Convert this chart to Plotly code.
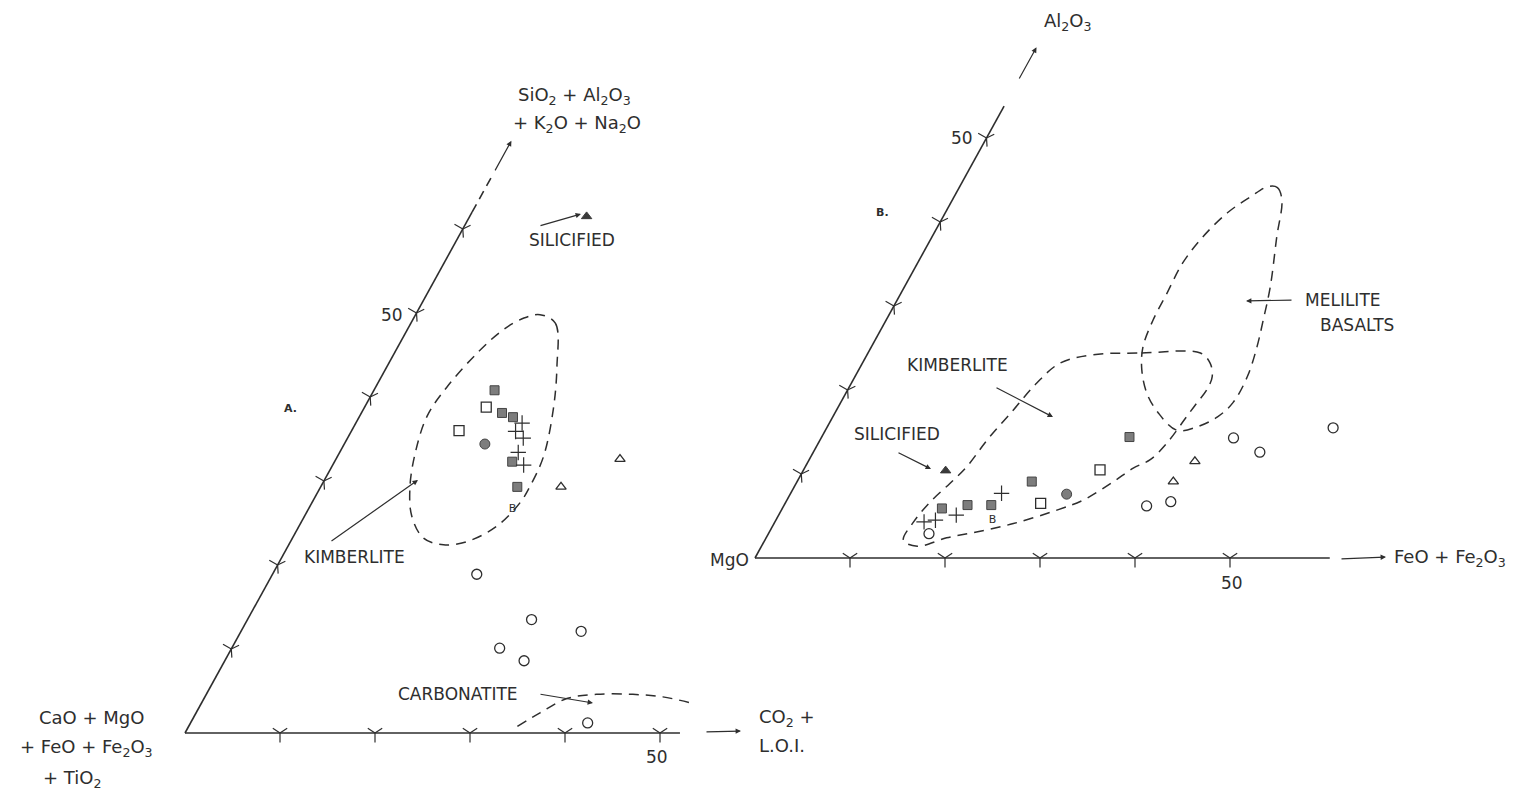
import plotly.graph_objects as go

W, H = 1524, 794
INK = "#2e2e2e"
FONT = "DejaVu Sans"

# Diagram geometry (style): one composition unit = UNIT px along the c axis;
# the a axis is drawn obliquely as in the original figure.
UNIT = 9.5
KX, KY = 4.63 / UNIT, 8.4 / UNIT
PAGE_OFF = 8                      # body margin of the written html page
ORIGIN_A = (185, 733)             # CaO+MgO+... corner of panel A (page px)
ORIGIN_B = (755, 558)             # MgO corner of panel B (page px)

# ---------------- Panel A : a = SiO2+Al2O3+K2O+Na2O, c = CO2+L.O.I. (rest = CaO+MgO+FeO+Fe2O3+TiO2)
A_GRAYSQ_A = [40.8, 38.1, 37.6, 32.3, 29.3]
A_GRAYSQ_C = [12.7, 14.8, 16.2, 18.7, 20.7]
A_OPENSQ_A = [38.8, 36.0]
A_OPENSQ_C = [12.8, 11.3]
A_GRAYCIRC_A = [34.4]
A_GRAYCIRC_C = [14.8]
A_PLUS_A = [36.9, 35.9, 35.1, 33.4, 31.9]
A_PLUS_C = [17.5, 17.3, 18.5, 18.8, 20.1]
A_B_A = [26.6]
A_B_C = [21.5]
A_OPENTRI_A = [29.3, 32.6]
A_OPENTRI_C = [25.3, 29.9]
A_SILIC_A = [61.5]
A_SILIC_C = [12.3]
A_CIRC_A = [18.9, 13.5, 12.1, 10.1, 8.6, 1.2]
A_CIRC_C = [21.5, 29.9, 35.8, 28.2, 31.5, 41.8]
A_KIMB_A = [49.8, 48.8, 43.6, 38.5, 32.9, 29.3, 27.4, 24.6, 22.8, 22.4, 23.2, 25.8,
            29.3, 33.3, 37.7, 41.2, 45.2, 48.0, 49.4, 49.8]
A_KIMB_C = [13.1, 15.2, 17.9, 20.0, 21.7, 22.0, 21.9, 20.8, 18.6, 16.3, 13.8, 11.3,
            9.4, 8.0, 7.1, 7.5, 8.7, 10.1, 11.6, 13.1]
A_CARB_A = [0.8, 2.4, 4.1, 4.6, 4.6, 4.3, 3.6]
A_CARB_C = [34.6, 36.2, 38.2, 41.1, 44.9, 48.2, 51.4]
A_TICKS = [10, 20, 30, 40, 50, 60]
A_TICKS_C = [10, 20, 30, 40, 50]
A_AXIS_A_SOLID = [0, 62]
A_AXIS_A_DASH = [62, 66.5]
A_AXIS_A_ARROW = [66.8, 70.5]
A_AXIS_C = [0, 52.1]

# ---------------- Panel B : a = Al2O3, c = FeO+Fe2O3 (rest = MgO)
B_GRAYSQ_A = [5.9, 6.3, 6.3, 9.1, 14.4]
B_GRAYSQ_C = [16.8, 19.3, 21.8, 24.7, 32.4]
B_OPENSQ_A = [6.5, 10.5]
B_OPENSQ_C = [26.9, 31.2]
B_GRAYCIRC_A = [7.6]
B_GRAYCIRC_C = [29.1]
B_PLUS_A = [7.7, 5.1, 4.3, 4.5]
B_PLUS_C = [22.2, 18.7, 15.7, 16.8]
B_B_A = [4.5]
B_B_C = [22.8]
B_SILIC_A = [10.4]
B_SILIC_C = [15.0]
B_CIRC_A = [2.9, 6.2, 6.7, 14.3, 12.6, 15.5]
B_CIRC_C = [16.9, 38.2, 40.5, 43.4, 47.0, 53.3]
B_OPENTRI_A = [9.1, 11.5]
B_OPENTRI_C = [39.6, 40.7]
B_KIMB_A = [24.2, 24.4, 24.4, 23.2, 21.6, 20.0, 18.4, 16.6, 13.7, 11.7, 10.7, 9.1, 6.9,
            5.7, 4.1, 3.1, 2.4, 1.4, 2.1, 4.3, 6.7, 8.9, 10.9, 14.1, 17.6, 20.8, 23.2, 24.2]
B_KIMB_C = [23.8, 28.8, 35.0, 36.6, 37.6, 37.8, 37.5, 37.2, 36.7, 35.9, 34.6, 33.3, 31.2,
            29.0, 25.2, 21.8, 19.0, 16.4, 14.6, 14.6, 15.2, 16.2, 17.0, 17.6, 18.6, 19.5, 20.8, 23.8]
B_MEL_A = [44.2, 44.1, 42.6, 38.2, 32.3, 28.3, 25.1, 21.6, 18.5, 16.8, 15.6, 15.2, 17.3,
           19.6, 22.4, 25.1, 28.3, 31.6, 35.1, 38.2, 41.1, 43.0, 44.2]
B_MEL_C = [32.4, 33.5, 34.7, 36.3, 38.5, 39.7, 40.6, 41.3, 41.3, 40.5, 38.9, 37.0, 34.0,
           31.7, 29.8, 28.6, 28.1, 28.0, 27.9, 28.5, 29.7, 31.2, 32.4]
B_TICKS = [10, 20, 30, 40, 50]
B_TICKS_C = [10, 20, 30, 40, 50]
B_AXIS_A = [0, 53.8]
B_AXIS_A_ARROW = [56.9, 60.8]
B_AXIS_C = [0, 60.5]


def proj(a, c):
    """oblique (partial ternary) projection of compositions onto the drawing plane"""
    return [ci + KX * ai for ai, ci in zip(a, c)], [KY * ai for ai in a]


fig = go.Figure()


def pts(ax, a, c, mode="markers", **kw):
    x, y = proj(a, c)
    fig.add_trace(go.Scatter(x=x, y=y, xaxis="x" if ax == 1 else "x2",
                             yaxis="y" if ax == 1 else "y2", mode=mode, cliponaxis=False,
                             hoverinfo="skip", showlegend=False, **kw))


def panel(ax, d):
    gray = dict(color="#7d7d7d", line=dict(color="#444", width=1))
    pts(ax, d["gsq_a"], d["gsq_c"], marker=dict(symbol="square", size=9, **gray))
    pts(ax, d["osq_a"], d["osq_c"], marker=dict(symbol="square-open", size=10, color=INK,
                                                 line=dict(color=INK, width=1.3)))
    pts(ax, d["gci_a"], d["gci_c"], marker=dict(symbol="circle", size=10, **gray))
    pts(ax, d["plus_a"], d["plus_c"], marker=dict(symbol="cross-thin-open", size=11, color=INK,
                                                   line=dict(color=INK, width=1.2)))
    pts(ax, d["b_a"], d["b_c"], mode="text", text=["B"] * len(d["b_a"]),
        textfont=dict(family=FONT, size=11, color=INK))
    pts(ax, d["tri_a"], d["tri_c"], marker=dict(symbol="triangle-up-open", size=9, color=INK,
                                                 line=dict(color=INK, width=1.3)))
    pts(ax, d["sil_a"], d["sil_c"], marker=dict(symbol="triangle-up", size=9, color="#3a3a3a",
                                                 line=dict(color="#3a3a3a", width=1)))
    pts(ax, d["ci_a"], d["ci_c"], marker=dict(symbol="circle-open", size=10, color=INK,
                                               line=dict(color=INK, width=1.3)))


# dashed fields
dash = dict(color=INK, width=1.5, dash="10px,7px", shape="spline")
pts(1, A_KIMB_A, A_KIMB_C, mode="lines", line=dash)
pts(1, A_CARB_A, A_CARB_C, mode="lines", line=dash)
pts(2, B_KIMB_A, B_KIMB_C, mode="lines", line=dash)
pts(2, B_MEL_A, B_MEL_C, mode="lines", line=dash)

# axes of the diagrams
axline = dict(color=INK, width=1.6)
pts(1, A_AXIS_A_SOLID, [0, 0], mode="lines", line=axline)
pts(1, A_AXIS_A_DASH, [0, 0], mode="lines", line=dict(color=INK, width=1.6, dash="9px,6px"))
pts(1, [0, 0], A_AXIS_C, mode="lines", line=axline)
pts(2, B_AXIS_A, [0, 0], mode="lines", line=axline)
pts(2, [0, 0], B_AXIS_C, mode="lines", line=axline)

# tick marks
tick_c = dict(symbol="y-down-open", size=12, color=INK, line=dict(color=INK, width=1.2))
tick_a = dict(symbol="y-left-open", size=12, angle=30, color=INK, line=dict(color=INK, width=1.2))
pts(1, A_TICKS, [0] * len(A_TICKS), marker=tick_a)
pts(1, [0] * len(A_TICKS_C), A_TICKS_C, marker=tick_c)
pts(2, B_TICKS, [0] * len(B_TICKS), marker=tick_a)
pts(2, [0] * len(B_TICKS_C), B_TICKS_C, marker=tick_c)

panel(1, dict(gsq_a=A_GRAYSQ_A, gsq_c=A_GRAYSQ_C, osq_a=A_OPENSQ_A, osq_c=A_OPENSQ_C,
              gci_a=A_GRAYCIRC_A, gci_c=A_GRAYCIRC_C, plus_a=A_PLUS_A, plus_c=A_PLUS_C,
              b_a=A_B_A, b_c=A_B_C, tri_a=A_OPENTRI_A, tri_c=A_OPENTRI_C,
              sil_a=A_SILIC_A, sil_c=A_SILIC_C, ci_a=A_CIRC_A, ci_c=A_CIRC_C))
panel(2, dict(gsq_a=B_GRAYSQ_A, gsq_c=B_GRAYSQ_C, osq_a=B_OPENSQ_A, osq_c=B_OPENSQ_C,
              gci_a=B_GRAYCIRC_A, gci_c=B_GRAYCIRC_C, plus_a=B_PLUS_A, plus_c=B_PLUS_C,
              b_a=B_B_A, b_c=B_B_C, tri_a=B_OPENTRI_A, tri_c=B_OPENTRI_C,
              sil_a=B_SILIC_A, sil_c=B_SILIC_C, ci_a=B_CIRC_A, ci_c=B_CIRC_C))


def axes_for(origin):
    ox, oy = origin[0] - PAGE_OFF, origin[1] - PAGE_OFF
    xr = [-ox / UNIT, (W - ox) / UNIT]
    yr = [-(H - oy) / UNIT, oy / UNIT]
    return xr, yr


xrA, yrA = axes_for(ORIGIN_A)
xrB, yrB = axes_for(ORIGIN_B)
hidden = dict(visible=False, showgrid=False, zeroline=False, fixedrange=True, domain=[0, 1])

annotations = []


def P(px, py):
    return (px - PAGE_OFF) / W, 1 - (py - PAGE_OFF) / H


def txt(text, x, y, size=17, anchor="center", bold=False):
    px, py = P(x, y)
    annotations.append(dict(text=f"<b>{text}</b>" if bold else text, x=px, y=py,
                            xref="paper", yref="paper", showarrow=False,
                            xanchor=anchor, yanchor="middle",
                            font=dict(family=FONT, size=size, color=INK)))


def arrow(tx, ty, hx, hy):
    px, py = P(hx, hy)
    annotations.append(dict(text="", x=px, y=py, xref="paper", yref="paper",
                            ax=tx - hx, ay=ty - hy, showarrow=True, arrowhead=2,
                            arrowsize=0.9, arrowwidth=1.2, arrowcolor=INK))


def axis_arrow(origin, a_pair):
    """arrowhead at the end of an oblique (a) axis, placed with the diagram geometry"""
    (a0, a1) = a_pair
    t = (origin[0] + UNIT * KX * a0, origin[1] - UNIT * KY * a0)
    h = (origin[0] + UNIT * KX * a1, origin[1] - UNIT * KY * a1)
    arrow(t[0], t[1], h[0], h[1])


# Panel A texts
txt("SiO<sub>2</sub> + Al<sub>2</sub>O<sub>3</sub>", 574, 96, size=18)
txt("+ K<sub>2</sub>O + Na<sub>2</sub>O", 577, 124, size=18)
txt("SILICIFIED", 572, 240)
arrow(539, 226, 581, 214)
txt("50", 392, 315)
txt("A.", 290, 408, size=11, bold=True)
txt("KIMBERLITE", 354, 557)
arrow(330, 542, 418, 480)
txt("CARBONATITE", 458, 694)
arrow(539, 694, 593, 703)
txt("50", 657, 757)
txt("CaO + MgO", 91, 717, size=18)
txt("+ FeO + Fe<sub>2</sub>O<sub>3</sub>", 86, 748, size=18)
txt("+ TiO<sub>2</sub>", 72, 779, size=18)
txt("CO<sub>2</sub> +", 757, 718, size=18, anchor="left")
txt("L.O.I.", 757, 745, size=18, anchor="left")
arrow(705, 732, 741, 731)
axis_arrow(ORIGIN_A, A_AXIS_A_ARROW)

# Panel B texts
txt("Al<sub>2</sub>O<sub>3</sub>", 1068, 22, size=18)
axis_arrow(ORIGIN_B, B_AXIS_A_ARROW)
txt("50", 962, 138)
txt("B.", 882, 212, size=11, bold=True)
txt("MELILITE", 1343, 300)
txt("BASALTS", 1357, 325)
arrow(1293, 300, 1246, 301)
txt("KIMBERLITE", 957, 365)
arrow(995, 387, 1053, 417)
txt("SILICIFIED", 897, 434)
arrow(897, 452, 931, 469)
txt("MgO", 729, 560, size=17)
txt("FeO + Fe<sub>2</sub>O<sub>3</sub>", 1392, 558, size=18, anchor="left")
arrow(1340, 559, 1386, 557)
txt("50", 1232, 583)

fig.update_layout(
    width=W, height=H, margin=dict(l=0, r=0, t=0, b=0),
    paper_bgcolor="white", plot_bgcolor="rgba(0,0,0,0)",
    xaxis=dict(hidden, range=xrA, anchor="y"),
    yaxis=dict(hidden, range=yrA, anchor="x"),
    xaxis2=dict(hidden, range=xrB, anchor="y2", overlaying="x"),
    yaxis2=dict(hidden, range=yrB, anchor="x2", overlaying="y"),
    annotations=annotations,
)

fig.write_html("out.html", config={"displayModeBar": False})
